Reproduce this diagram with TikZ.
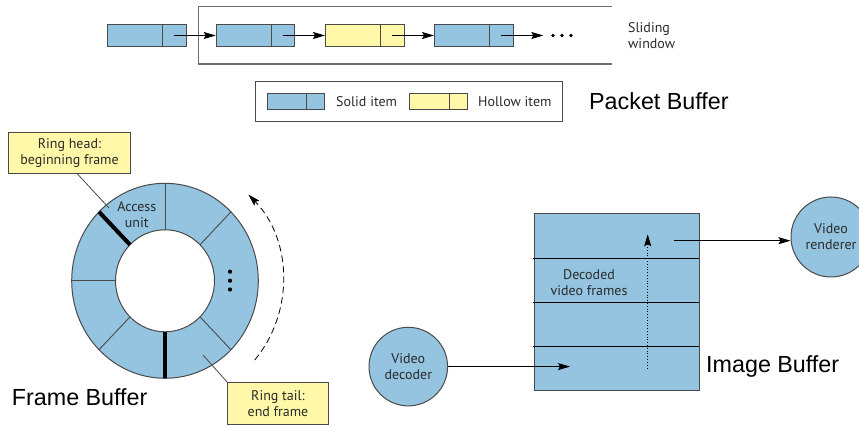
\documentclass[tikz,border=0pt]{standalone}
\usepackage{fontspec}
\setmainfont{PT Sans}
\newfontfamily\headfont{Liberation Sans}
\usetikzlibrary{arrows.meta,calc}

\definecolor{itemblue}{HTML}{94C4E0}
\definecolor{itemyellow}{HTML}{FFF8A8}
\definecolor{edgegray}{HTML}{4A4A4A}
\definecolor{framegray}{HTML}{6E6E6E}
\definecolor{textgray}{HTML}{2A2A2A}

\tikzset{
  pkt/.style={draw=edgegray, line width=1pt, minimum width=78.5pt, minimum height=22.4pt, inner sep=0pt},
  legitem/.style={draw=edgegray, line width=1pt, minimum width=57.5pt, minimum height=16pt, inner sep=0pt},
  callout/.style={draw=edgegray, line width=1pt, fill=itemyellow, align=center, font=\fontsize{14}{15.7}\selectfont, text=textgray, inner sep=0pt},
  lbl/.style={font=\fontsize{14}{16}\selectfont, text=textgray, align=center, inner sep=0pt},
  title/.style={font=\headfont\fontsize{23.3}{26}\selectfont, anchor=west, inner sep=0pt},
  flow/.style={black, line width=0.9pt, -{Stealth[length=12pt,width=7pt,inset=2pt]}},
  divider/.style={draw=edgegray, line width=0.9pt},
  ringmark/.style={black, line width=4pt},
  proc/.style={circle, draw=edgegray, line width=1pt, fill=itemblue, align=center, font=\fontsize{14}{16}\selectfont, text=textgray, inner sep=0pt}
}

\begin{document}
\begin{tikzpicture}[x=1pt, y=-1pt]
\useasboundingbox (0,0) rectangle (859,427);

% ---------------- packet buffer: linked list of items ----------------
\draw[framegray, line width=1.4pt] (611.7,6.7) -- (198.7,6.7) -- (198.7,64) -- (611.7,64);
\node[lbl, align=left, anchor=west] (slw) at (628,36) {Sliding\\window};

\foreach \nm/\xx/\col in {p0/107/itemblue, p1/215.7/itemblue, p2/325/itemyellow, p3/434/itemblue}{
  \node[pkt, fill=\col, anchor=west] (\nm) at (\xx,35.5) {};
  \draw[divider] ($(\nm.north west)+(55.5,0)$) -- ($(\nm.south west)+(55.5,0)$);
  \coordinate (\nm-c) at ($(\nm.west)+(67,0)$);
}
\coordinate (pend) at (543.3,35.5);
\draw[flow] (p0-c) -- (p1.west);
\draw[flow] (p1-c) -- (p2.west);
\draw[flow] (p2-c) -- (p3.west);
\draw[flow] (p3-c) -- (pend);
\foreach \xx in {553,562,571}
  \fill[black] (\xx,35.5) circle[radius=1.8pt];

% legend
\node[draw=edgegray, line width=1pt, minimum width=306.7pt, minimum height=40pt, anchor=north west, inner sep=0pt] (legend) at (255,81) {};
\node[legitem, fill=itemblue, anchor=west] (lsolid) at (266.7,101.3) {};
\draw[divider] ($(lsolid.north west)+(40,0)$) -- ($(lsolid.south west)+(40,0)$);
\node[lbl, anchor=west] (tsolid) at (336,101.5) {Solid item};
\node[legitem, fill=itemyellow, anchor=west, minimum width=58.6pt] (lhollow) at (408.7,101.3) {};
\draw[divider] ($(lhollow.north west)+(40.6,0)$) -- ($(lhollow.south west)+(40.6,0)$);
\node[lbl, anchor=west] (thollow) at (478,101.5) {Hollow item};

\node[title] (pbuf) at (589,101.5) {Packet Buffer};

% ---------------- frame buffer: ring of access units ----------------
\coordinate (ringc) at (165,280.8);
\fill[itemblue, even odd rule] (ringc) ellipse[x radius=93.3pt, y radius=97.5pt]
                               (ringc) ellipse[x radius=49.5pt, y radius=51pt];
\draw[edgegray, line width=1pt] (ringc) ellipse[x radius=93.3pt, y radius=97.5pt];
\draw[edgegray, line width=1pt] (ringc) ellipse[x radius=49.5pt, y radius=51pt];
\foreach \a in {90,45,180,225,315}
  \draw[divider] ([shift={(\a:49.5pt and 51pt)}]ringc) -- ([shift={(\a:93.3pt and 97.5pt)}]ringc);
\foreach \a in {135,270}
  \draw[ringmark] ([shift={(\a:49.5pt and 51pt)}]ringc) -- ([shift={(\a:93.3pt and 97.5pt)}]ringc);

\node[lbl] (au) at (136.7,214.7) {Access\\unit};
\foreach \yy in {271.7,280.7,289.5}
  \fill[black] (230,\yy) circle[radius=2.1pt];

% direction of travel around the ring
\draw[black, line width=0.8pt, dash pattern=on 6.5pt off 4pt, -{Stealth[length=12pt,width=7pt,inset=2pt]}]
  ([shift={(-40.5:118pt and 122pt)}]ringc) arc[start angle=-40.5, end angle=45, x radius=118pt, y radius=122pt];

% callouts
\node[callout, minimum width=122.4pt, minimum height=41pt] (rhead) at (69.5,152.8) {Ring head:\\beginning frame};
\node[callout, minimum width=100.6pt, minimum height=42.3pt] (rtail) at (278,403.8) {Ring tail:\\end frame};
\coordinate (headpt) at (109,208);
\coordinate (tailpt) at (203,355);
\draw[edgegray, line width=0.8pt] ([xshift=7.8pt]rhead.south) -- (headpt);
\draw[edgegray, line width=0.8pt] (rtail.north west) -- (tailpt);

\node[title] (fbuf) at (11.7,397) {Frame Buffer};

% ---------------- image buffer ----------------
\node[draw=edgegray, line width=1pt, fill=itemblue, minimum width=165.3pt, minimum height=176.7pt, anchor=north west, inner sep=0pt] (ibuf) at (534,213.3) {};
\foreach \yy in {258.3,302.7,346}
  \draw[black, line width=0.9pt] (532.7,\yy) -- (699.3,\yy);
\node[lbl] (dvf) at (589,282.2) {Decoded\\video frames};

\coordinate (scanlo) at (647.7,368.3);
\coordinate (scanhi) at (647.7,234.3);
\draw[black, line width=0.8pt, dotted, -{Stealth[length=12pt,width=7pt,inset=2pt]}] (scanlo) -- (scanhi);

\node[proc, minimum size=78.6pt] (dec) at (408.3,366.6) {Video\\decoder};
\node[proc, minimum size=80pt] (ren) at (831,237) {Video\\renderer};
\coordinate (ibin) at (570,366.6);
\coordinate (ibout) at (674,240.7);
\draw[flow] (dec.east) -- (ibin);
\draw[flow] (ibout) -- (ibout -| ren.west);

\node[title] (imbuf) at (706,366.7) {Image Buffer};
\end{tikzpicture}
\end{document}
